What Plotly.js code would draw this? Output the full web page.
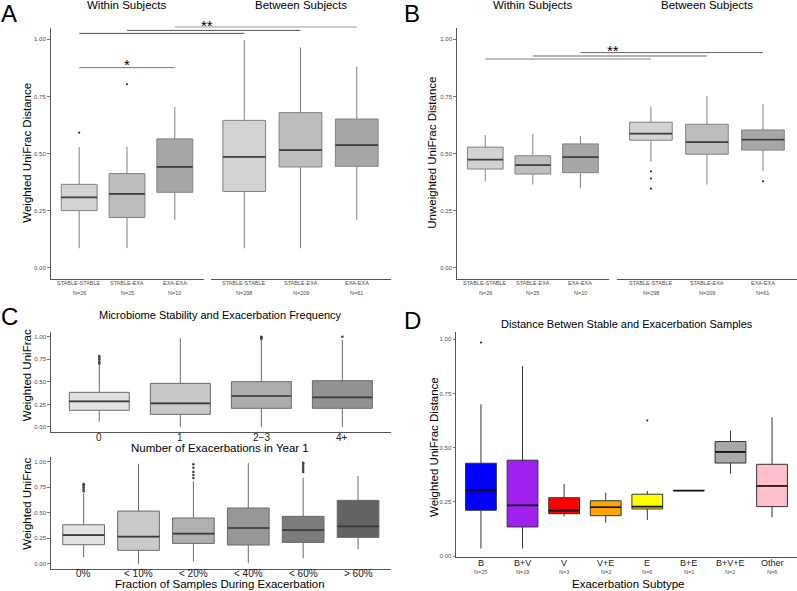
<!DOCTYPE html>
<html><head><meta charset="utf-8">
<script src="https://cdn.plot.ly/plotly-3.0.1.min.js"></script>
<style>html,body{margin:0;padding:0;background:#fff}#chart{width:797px;height:591px}</style>
</head><body><div id="chart"></div>
<script>
// ---------------- DATA ----------------
const abCategories = ["STABLE-STABLE","STABLE-EXA","EXA-EXA"];
const withinN = ["N=26","N=25","N=10"];
const betweenN = ["N=298","N=209","N=61"];

// Panel A: weighted UniFrac, within subjects
const aWithinQ1  = [0.250,0.220,0.330];
const aWithinMed = [0.308,0.323,0.441];
const aWithinQ3  = [0.365,0.412,0.564];
const aWithinLo  = [0.085,0.085,0.209];
const aWithinHi  = [0.528,0.530,0.704];
const aWithinOutX = [1,2];
const aWithinOutY = [0.591,0.803];
// Panel A: between subjects
const aBetweenQ1  = [0.334,0.441,0.444];
const aBetweenMed = [0.485,0.515,0.537];
const aBetweenQ3  = [0.645,0.679,0.651];
const aBetweenLo  = [0.085,0.085,0.209];
const aBetweenHi  = [0.997,0.965,0.880];

// Panel B: unweighted UniFrac, within subjects
const bWithinQ1  = [0.432,0.410,0.416];
const bWithinMed = [0.473,0.449,0.484];
const bWithinQ3  = [0.528,0.490,0.542];
const bWithinLo  = [0.377,0.364,0.348];
const bWithinHi  = [0.581,0.586,0.577];
// Panel B: between subjects
const bBetweenQ1  = [0.558,0.497,0.515];
const bBetweenMed = [0.587,0.550,0.561];
const bBetweenQ3  = [0.637,0.628,0.603];
const bBetweenLo  = [0.464,0.364,0.422];
const bBetweenHi  = [0.706,0.751,0.717];
const bBetweenOutX = [1,1,1,3];
const bBetweenOutY = [0.422,0.390,0.346,0.378];

// significance brackets (y levels in data units)
const aSigLevels = [1.026,1.039,1.054];
const aSigStarLevel = 1.074;
const aPairLevel = 0.876;
const aPairStarLevel = 0.905;
const bSigLevels = [0.914,0.927,0.942];
const bSigStarLevel = 0.966;

// Panel C top: number of exacerbations
const cTopCategories = ["0","1","2\u22123","4+"];
const cTopQ1  = [0.185,0.140,0.207,0.207];
const cTopMed = [0.284,0.262,0.343,0.328];
const cTopQ3  = [0.384,0.483,0.502,0.513];
const cTopLo  = [0.059,0.000,0.000,0.000];
const cTopHi  = [0.690,0.985,0.963,0.963];
const cTopOutX = [1,1,1,1,1,3,3,3,3,4];
const cTopOutY = [0.700,0.720,0.745,0.765,0.785,0.975,0.985,0.993,1.000,1.000];

// Panel C bottom: fraction of samples during exacerbation
const cBotCategories = ["0%","< 10%","< 20%","< 40%","< 60%","> 60%"];
const cBotQ1  = [0.186,0.131,0.199,0.183,0.209,0.258];
const cBotMed = [0.281,0.265,0.294,0.350,0.330,0.366];
const cBotQ3  = [0.382,0.516,0.448,0.546,0.464,0.621];
const cBotLo  = [0.065,0.000,0.023,0.007,0.052,0.141];
const cBotHi  = [0.690,0.980,0.810,0.987,0.843,0.859];
const cBotOutX = [1,1,1,1,1,3,3,3,3,3,5,5,5,5,5,5];
const cBotOutY = [0.710,0.730,0.750,0.770,0.780,0.840,0.870,0.900,0.940,0.975,0.900,0.920,0.940,0.960,0.980,0.990];

// Panel D: exacerbation subtype
const dCategories = ["B","B+V","V","V+E","E","B+E","B+V+E","Other"];
const dN = ["N=25","N=19","N=3","N=2","N=6","N=1","N=2","N=6"];
const dQ1  = [0.211,0.134,0.195,0.186,0.217,0.302,0.429,0.228];
const dMed = [0.303,0.234,0.209,0.225,0.228,0.302,0.480,0.323];
const dQ3  = [0.428,0.442,0.269,0.255,0.285,0.302,0.528,0.423];
const dLo  = [0.035,0.035,0.182,0.154,0.166,0.302,0.380,0.178];
const dHi  = [0.700,0.877,0.332,0.292,0.300,0.302,0.578,0.640];
const dOutX = [1,5];
const dOutY = [0.985,0.625];
const dColors = ["#0000ff","#a020f0","#ff0000","#ffa500","#ffff00","#ffffff","#a9a9a9","#ffc0cb"];

// ---------------- LAYOUT GEOMETRY ----------------
const W = 797, H = 591;
const FONT = "Liberation Sans, Arial, sans-serif";
const P = {
  A1:{x:[50.5,203.5], y:[27.9,279.1], xr:[0.4,3.6], yr:[-0.05,1.05], ax:"x",  ay:"y"},
  A2:{x:[210.5,390.5],y:[27.9,279.1], xr:[0.4,3.6], yr:[-0.05,1.05], ax:"x2", ay:"y2"},
  B1:{x:[456.7,609],  y:[27.9,279.1], xr:[0.4,3.6], yr:[-0.05,1.05], ax:"x3", ay:"y3"},
  B2:{x:[617.3,796.6],y:[27.9,279.1], xr:[0.4,3.6], yr:[-0.05,1.05], ax:"x4", ay:"y4"},
  C1:{x:[50.7,391],   y:[332.2,431.5],xr:[0.4,4.6], yr:[-0.05,1.05], ax:"x5", ay:"y5"},
  C2:{x:[50.7,391],   y:[456.6,568.8],xr:[0.4,6.6], yr:[-0.05,1.05], ax:"x6", ay:"y6"},
  D: {x:[456,797],    y:[332.3,557.3],xr:[0.4,8.6], yr:[-0.006,1.032],ax:"x7", ay:"y7"}
};
const px2X = v => v / W;
const px2Y = v => 1 - v / H;
function xPx(p, v){ const c=P[p]; return c.x[0] + (v-c.xr[0])/(c.xr[1]-c.xr[0])*(c.x[1]-c.x[0]); }
function yPx(p, v){ const c=P[p]; return c.y[1] - (v-c.yr[0])/(c.yr[1]-c.yr[0])*(c.y[1]-c.y[0]); }

const traces = [];
function addBoxes(p, q1, med, q3, lo, hi, fills, lineCol, medCol, w){
  const c = P[p];
  const mx = [], my = [];
  for (let i=0;i<q1.length;i++){
    traces.push({type:"box", xaxis:c.ax, yaxis:c.ay, x:[i+1], q1:[q1[i]], median:[med[i]], q3:[q3[i]],
      lowerfence:[lo[i]], upperfence:[hi[i]], width:w, whiskerwidth:0, boxpoints:false,
      fillcolor:fills[i], line:{color:lineCol, width:1}, hoverinfo:"skip"});
    mx.push(i+1-w/2, i+1+w/2, null); my.push(med[i], med[i], null);
  }
  traces.push({type:"scatter", mode:"lines", xaxis:c.ax, yaxis:c.ay, x:mx, y:my,
    line:{color:medCol, width:1.7}, hoverinfo:"skip"});
}
function addOutliers(p, xs, ys, col, size){
  const c = P[p];
  traces.push({type:"scatter", mode:"markers", xaxis:c.ax, yaxis:c.ay, x:xs, y:ys,
    marker:{color:col, size:size}, hoverinfo:"skip"});
}

const abFills = ["#d3d3d3","#bdbdbd","#a7a7a7"];
addBoxes("A1", aWithinQ1, aWithinMed, aWithinQ3, aWithinLo, aWithinHi, abFills, "#808080", "#404040", 0.75);
addOutliers("A1", aWithinOutX, aWithinOutY, "#333", 2.2);
addBoxes("A2", aBetweenQ1, aBetweenMed, aBetweenQ3, aBetweenLo, aBetweenHi, abFills, "#808080", "#404040", 0.76);
addBoxes("B1", bWithinQ1, bWithinMed, bWithinQ3, bWithinLo, bWithinHi, abFills, "#808080", "#404040", 0.75);
addBoxes("B2", bBetweenQ1, bBetweenMed, bBetweenQ3, bBetweenLo, bBetweenHi, abFills, "#808080", "#404040", 0.76);
addOutliers("B2", bBetweenOutX, bBetweenOutY, "#333", 2.2);
addBoxes("C1", cTopQ1, cTopMed, cTopQ3, cTopLo, cTopHi, ["#e2e2e2","#c9c9c9","#adadad","#929292"], "#6a6a6a", "#3a3a3a", 0.74);
addOutliers("C1", cTopOutX, cTopOutY, "#444", 2.6);
addBoxes("C2", cBotQ1, cBotMed, cBotQ3, cBotLo, cBotHi, ["#e2e2e2","#cacaca","#b0b0b0","#979797","#7c7c7c","#636363"], "#6a6a6a", "#3a3a3a", 0.76);
addOutliers("C2", cBotOutX, cBotOutY, "#444", 2.6);
addBoxes("D", dQ1, dMed, dQ3, dLo, dHi, dColors, "#333333", "#111111", 0.74);
addOutliers("D", dOutX, dOutY, "#222", 2.2);

// ---------------- AXES ----------------
const layout = {
  width:W, height:H, margin:{l:0,r:0,t:0,b:0}, paper_bgcolor:"#fff", plot_bgcolor:"rgba(0,0,0,0)",
  showlegend:false, boxmode:"overlay", font:{family:FONT, color:"#000"},
  annotations:[], shapes:[]
};
const yTickVals = [0,0.25,0.5,0.75,1];
const yTickText = ["0.00","0.25","0.50","0.75","1.00"];
function axName(a){ return a.length===1 ? a+"axis" : a[0]+"axis"+a.slice(1); }
function setAxes(p, showY){
  const c = P[p];
  const xa = axName(c.ax), ya = axName(c.ay);
  layout[xa] = {domain:[px2X(c.x[0]), px2X(c.x[1])], range:c.xr, anchor:c.ay,
    showline:true, linecolor:"#555", linewidth:1, showgrid:false, zeroline:false,
    ticks:"", showticklabels:false, fixedrange:true};
  layout[ya] = {domain:[px2Y(c.y[1]), px2Y(c.y[0])], range:c.yr, anchor:c.ax,
    showline:showY, linecolor:"#555", linewidth:1, showgrid:false, zeroline:false,
    ticks: showY ? "outside" : "", ticklen:2.5, tickwidth:0.8, tickcolor:"#555",
    showticklabels:showY, tickmode:"array", tickvals:yTickVals, ticktext:yTickText,
    tickfont:{size:6, color:"#4d4d4d", family:FONT}, fixedrange:true};
}
setAxes("A1", true);
setAxes("A2", false);
setAxes("B1", true);
setAxes("B2", false);
setAxes("C1", true);
setAxes("C2", true);
setAxes("D",  true);

// ---------------- ANNOTATIONS ----------------
function ann(text, xp, yp, size, opts){
  layout.annotations.push(Object.assign({text:text, xref:"paper", yref:"paper", x:px2X(xp), y:px2Y(yp),
    showarrow:false, xanchor:"center", yanchor:"middle", font:{size:size, color:"#000", family:FONT}}, opts||{}));
}
// category labels placed at category positions of each x axis
function catLabels(p, labels, ypx, size, col){
  const c = P[p];
  labels.forEach((t,i)=>layout.annotations.push({text:t, xref:c.ax, yref:"paper", x:i+1, y:px2Y(ypx),
    showarrow:false, xanchor:"center", yanchor:"middle", font:{size:size, color:col, family:FONT}}));
}
catLabels("A1", abCategories, 283.4, 5.5, "#4d4d4d");
catLabels("A2", abCategories, 283.4, 5.5, "#4d4d4d");
catLabels("B1", abCategories, 283.4, 5.5, "#4d4d4d");
catLabels("B2", abCategories, 283.4, 5.5, "#4d4d4d");
catLabels("A1", withinN, 292.5, 5.5, "#4d4d4d");
catLabels("A2", betweenN, 292.5, 5.5, "#4d4d4d");
catLabels("B1", withinN, 292.5, 5.5, "#4d4d4d");
catLabels("B2", betweenN, 292.5, 5.5, "#4d4d4d");
catLabels("C1", cTopCategories, 437.2, 10, "#222");
catLabels("C2", cBotCategories, 573.4, 10, "#222");
catLabels("D", dCategories, 563, 9, "#222");
catLabels("D", dN, 571.7, 5.5, "#4d4d4d");

// panel letters
ann("A", 9, 13.5, 24);
ann("B", 412, 13.5, 24);
ann("C", 9, 316, 24);
ann("D", 412, 320, 24);
// facet headers
ann("Within Subjects", (P.A1.x[0]+P.A1.x[1])/2, 5, 11.5);
ann("Between Subjects", (P.A2.x[0]+P.A2.x[1])/2, 5, 11.5);
ann("Within Subjects", (P.B1.x[0]+P.B1.x[1])/2, 5, 11.5);
ann("Between Subjects", (P.B2.x[0]+P.B2.x[1])/2, 5, 11.5);
// axis titles
ann("Weighted UniFrac Distance", 26.7, 153, 11.5, {textangle:-90});
ann("Unweighted UniFrac Distance", 431.7, 153, 11.5, {textangle:-90});
ann("Weighted UniFrac", 26.7, 375.5, 11.5, {textangle:-90});
ann("Weighted UniFrac", 26.7, 504, 11.5, {textangle:-90});
ann("Weighted UniFrac Distance", 433.3, 446.7, 11.5, {textangle:-90});
ann("Microbiome Stability and Exacerbation Frequency", 220.3, 315, 11);
ann("Number of Exacerbations in Year 1", 220, 447.5, 11.5);
ann("Fraction of Samples During Exacerbation", 220, 583.7, 11.5);
ann("Distance Betwen Stable and Exacerbation Samples", 626.7, 324, 11);
ann("Exacerbation Subtype", 628, 584.3, 11.5);

// ---------------- SIGNIFICANCE BRACKETS ----------------
function hline(pFrom, cFrom, pTo, cTo, pY, level, col, w){
  const y = px2Y(yPx(pY, level));
  layout.shapes.push({type:"line", xref:"paper", yref:"paper",
    x0:px2X(xPx(pFrom, cFrom)), x1:px2X(xPx(pTo, cTo)), y0:y, y1:y, line:{color:col, width:w}});
}
const aCols = ["#555","#555","#999"], aW = [1,1,1];
aSigLevels.forEach((lv,i)=>hline("A1", i+1, "A2", i+1, "A1", lv, aCols[i], aW[i]));
ann("**", (P.A1.x[1]+P.A2.x[0])/2, yPx("A1", aSigStarLevel)+3, 15);
hline("A1", 1, "A1", 3, "A1", aPairLevel, "#777", 1);
ann("*", xPx("A1", 2), yPx("A1", aPairStarLevel)+3, 15);
const bCols = ["#aaa","#999","#666"], bW = [1.6,1.3,1];
bSigLevels.forEach((lv,i)=>hline("B1", i+1, "B2", i+1, "B1", lv, bCols[i], bW[i]));
ann("**", (P.B1.x[1]+P.B2.x[0])/2, yPx("B1", bSigStarLevel)+3, 15);

Plotly.newPlot("chart", traces, layout, {staticPlot:true, displayModeBar:false});
</script></body></html>
